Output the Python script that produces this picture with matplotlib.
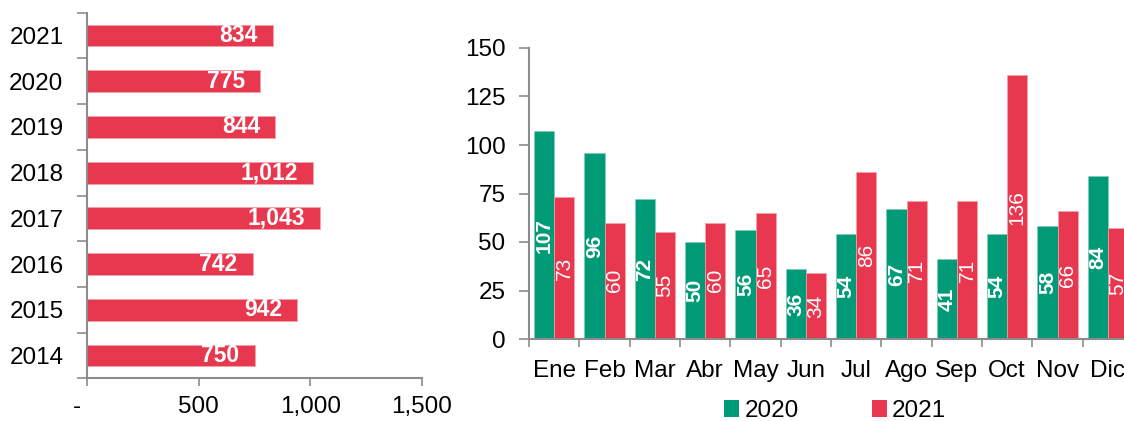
import matplotlib
matplotlib.use("Agg")
import matplotlib.pyplot as plt
import numpy as np
from matplotlib.patches import Patch
from matplotlib.ticker import FuncFormatter

plt.rcParams['font.family'] = ['Liberation Sans', 'DejaVu Sans']

# Data
years = ['2014', '2015', '2016', '2017', '2018', '2019', '2020', '2021']
annual = [750, 942, 742, 1043, 1012, 844, 775, 834]

months = ['Ene', 'Feb', 'Mar', 'Abr', 'May', 'Jun', 'Jul', 'Ago', 'Sep', 'Oct', 'Nov', 'Dic']
v2020 = [107, 96, 72, 50, 56, 36, 54, 67, 41, 54, 58, 84]
v2021 = [73, 60, 55, 60, 65, 34, 86, 71, 71, 136, 66, 57]
series_names = ['2020', '2021']

RED = '#E8384F'
GREEN = '#009A77'
SPINE = '#8C8C8C'
FS = 17.5
LFS = 16.5
RFS = 15

W, H = 1124, 421
fig = plt.figure(figsize=(W / 100, H / 100), dpi=100)

# ---------------- Left chart ----------------
axL = fig.add_axes([87 / W, 1 - 378.3 / H, (422 - 87) / W, (378.3 - 12.7) / H])
y = np.arange(len(years))
axL.barh(y, annual, height=0.475, color=RED, edgecolor='#F4A0AA', linewidth=0.6)
axL.set_xlim(0, 1500)
axL.set_ylim(-0.5, len(years) - 0.5)
axL.set_xticks([0, 500, 1000, 1500])
axL.xaxis.set_major_formatter(FuncFormatter(lambda v, p: '-   ' if v == 0 else f'{int(v):,}'))
axL.set_yticks(y)
axL.set_yticklabels(years)
axL.set_yticks(np.arange(-0.5, len(years), 1), minor=True)
axL.tick_params(axis='y', which='major', length=0, pad=17, labelsize=FS)
axL.tick_params(axis='y', which='minor', length=7, color=SPINE, width=1.2, direction='out')
axL.tick_params(axis='x', which='major', length=6, color=SPINE, width=1.2, pad=7, labelsize=FS)
for s in ['top', 'right']:
    axL.spines[s].set_visible(False)
for s in ['left', 'bottom']:
    axL.spines[s].set_color(SPINE)
    axL.spines[s].set_linewidth(1.5)
for yi, v in zip(y, annual):
    axL.annotate(f'{v:,}', xy=(v, yi), xytext=(-11, 0), textcoords='offset points',
                 ha='right', va='center', color='white', fontweight='bold', fontsize=LFS)

# ---------------- Right chart ----------------
axR = fig.add_axes([529 / W, 1 - 339 / H, (1133 - 529) / W, (339 - 48) / H])
x = np.arange(len(months))
bw = 0.4
axR.bar(x - bw / 2, v2020, width=bw, color=GREEN, edgecolor='#7FCDB8', linewidth=0.5)
axR.bar(x + bw / 2, v2021, width=bw, color=RED, edgecolor='#F4A0AA', linewidth=0.5)
axR.set_xlim(-0.5, len(months) - 0.5)
axR.set_ylim(0, 150)
axR.set_yticks([0, 25, 50, 75, 100, 125, 150])
axR.set_xticks(x)
axR.set_xticklabels(months)
axR.set_xticks(np.arange(-0.5, len(months), 1), minor=True)
axR.tick_params(axis='x', which='major', length=0, pad=15, labelsize=FS)
axR.tick_params(axis='x', which='minor', length=6, color=SPINE, width=1.2, direction='out')
axR.tick_params(axis='y', length=7, color=SPINE, width=1.2, pad=10, labelsize=FS)
for s in ['top', 'right']:
    axR.spines[s].set_visible(False)
for s in ['left', 'bottom']:
    axR.spines[s].set_color(SPINE)
    axR.spines[s].set_linewidth(1.5)
for xi, v in zip(x, v2020):
    axR.text(xi - bw / 2, v / 2, str(v), rotation=90, ha='center', va='center',
             color='white', fontweight='bold', fontsize=RFS, clip_on=False)
for xi, v in zip(x, v2021):
    axR.text(xi + bw / 2, v / 2, str(v), rotation=90, ha='center', va='center',
             color='white', fontsize=RFS, clip_on=False)

handles = [Patch(facecolor=GREEN, edgecolor='none'), Patch(facecolor=RED, edgecolor='none')]
fig.legend(handles, series_names, loc='center', bbox_to_anchor=(835 / W, 1 - 411 / H),
           ncol=2, frameon=False, fontsize=FS, handlelength=0.65, handleheight=0.65,
           handletextpad=0.2, columnspacing=3.0, borderpad=0)

fig.savefig('out.png', dpi=100)
